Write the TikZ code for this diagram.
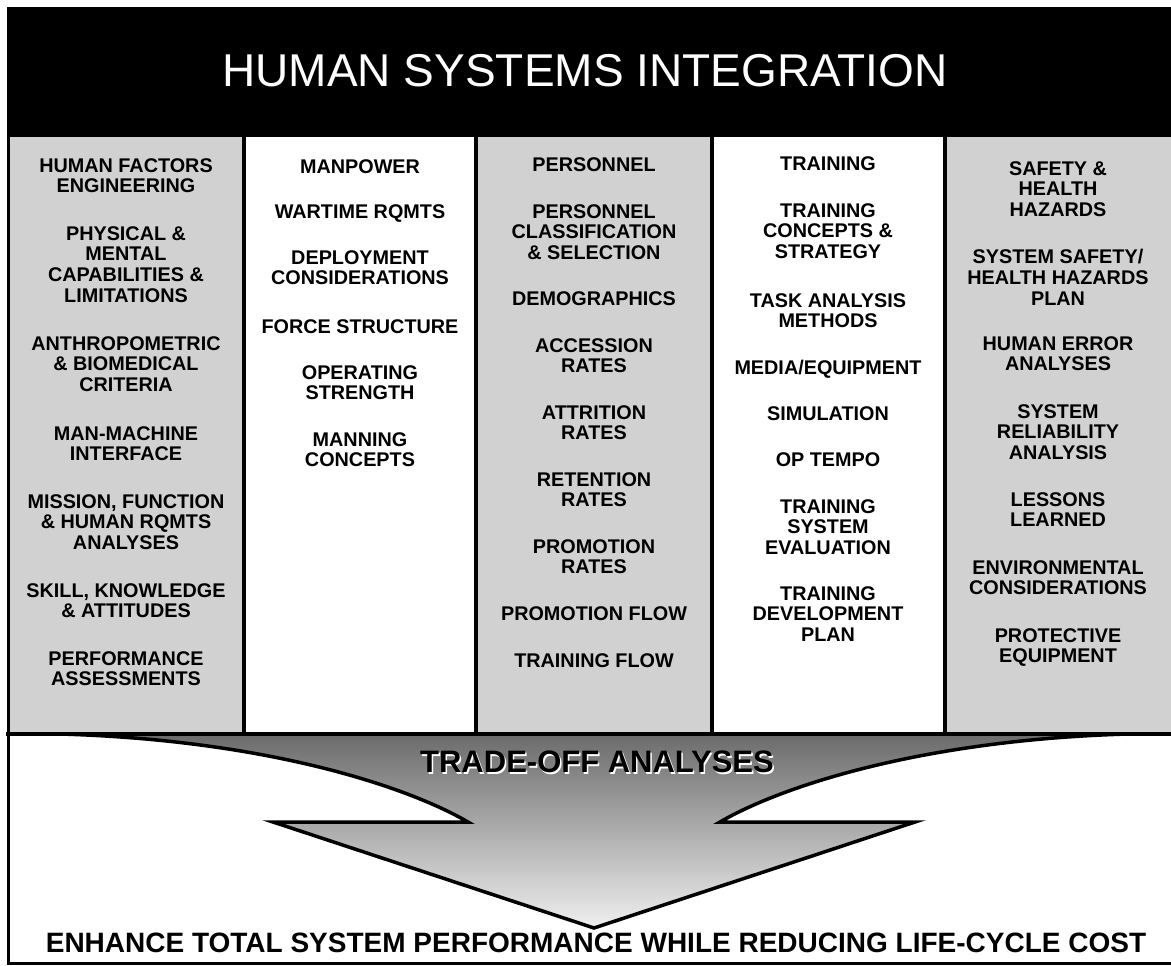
\documentclass[tikz,border=0pt]{standalone}
\usepackage{fontspec}
\setmainfont{Liberation Sans}
\definecolor{colgray}{gray}{0.82}
\begin{document}
\begin{tikzpicture}[x=1pt,y=-1pt,
  titletext/.style={text=white,font=\fontsize{46}{50}\selectfont,inner sep=0pt},
  colt/.style={font=\bfseries\fontsize{19.8}{20.8}\selectfont,align=center,anchor=north,inner sep=0pt},
  tradetext/.style={font=\bfseries\fontsize{31}{34}\selectfont,inner sep=0pt},
  goaltext/.style={font=\bfseries\fontsize{28}{30}\selectfont,inner sep=0pt},
  border/.style={line width=4pt,black},
  arrowline/.style={line width=3.5pt,black,line join=miter}]
\useasboundingbox (0,0) rectangle (1171,966);
\fill[white] (0,0) rectangle (1171,966);
% header
\fill[black] (8,7) rectangle (1171,137);
\node[titletext] (title) at (585,71) {HUMAN SYSTEMS INTEGRATION};
% column backgrounds
\fill[colgray] (8,137) rectangle (244,734);
\fill[colgray] (476,137) rectangle (712,734);
\fill[colgray] (945,137) rectangle (1171,734);
% arrow
\shade[top color=black!58,bottom color=black!6]
  (60,734) .. controls (268,740) and (408,787) .. (468,822) -- (273,822) -- (594,928)
  -- (915,822) -- (720,822) .. controls (780,787) and (920,740) .. (1128,734) -- cycle;
\draw[arrowline]
  (60,734) .. controls (268,740) and (408,787) .. (468,822) -- (273,822) -- (594,928)
  -- (915,822) -- (720,822) .. controls (780,787) and (920,740) .. (1128,734);
% borders
\draw[border] (244,137) -- (244,734);
\draw[border] (476,137) -- (476,734);
\draw[border] (712,137) -- (712,734);
\draw[border] (945,137) -- (945,734);
\draw[border] (6,734) -- (1171,734);
\draw[line width=3pt] (8,7) -- (8,963) -- (1171,963);
% column 1
\node[colt] (c1a) at (126,158) {HUMAN FACTORS\\ENGINEERING};
\node[colt] (c1b) at (126,226) {PHYSICAL \&\\MENTAL\\CAPABILITIES \&\\LIMITATIONS};
\node[colt] (c1c) at (126,336) {ANTHROPOMETRIC\\\& BIOMEDICAL\\CRITERIA};
\node[colt] (c1d) at (126,426) {MAN-MACHINE\\INTERFACE};
\node[colt] (c1e) at (126,494) {MISSION, FUNCTION\\\& HUMAN RQMTS\\ANALYSES};
\node[colt] (c1f) at (126,583) {SKILL, KNOWLEDGE\\\& ATTITUDES};
\node[colt] (c1g) at (126,651) {PERFORMANCE\\ASSESSMENTS};
% column 2
\node[colt] (c2a) at (360,159) {MANPOWER};
\node[colt] (c2b) at (360,204) {WARTIME RQMTS};
\node[colt] (c2c) at (360,250) {DEPLOYMENT\\CONSIDERATIONS};
\node[colt] (c2d) at (360,319) {FORCE STRUCTURE};
\node[colt] (c2e) at (360,365) {OPERATING\\STRENGTH};
\node[colt] (c2f) at (360,432) {MANNING\\CONCEPTS};
% column 3
\node[colt] (c3a) at (594,157) {PERSONNEL};
\node[colt] (c3b) at (594,204) {PERSONNEL\\CLASSIFICATION\\\& SELECTION};
\node[colt] (c3c) at (594,291) {DEMOGRAPHICS};
\node[colt] (c3d) at (594,338) {ACCESSION\\RATES};
\node[colt] (c3e) at (594,405) {ATTRITION\\RATES};
\node[colt] (c3f) at (594,472) {RETENTION\\RATES};
\node[colt] (c3g) at (594,539) {PROMOTION\\RATES};
\node[colt] (c3h) at (594,606) {PROMOTION FLOW};
\node[colt] (c3i) at (594,653) {TRAINING FLOW};
% column 4
\node[colt] (c4a) at (828,156) {TRAINING};
\node[colt] (c4b) at (828,203) {TRAINING\\CONCEPTS \&\\STRATEGY};
\node[colt] (c4c) at (828,293) {TASK ANALYSIS\\METHODS};
\node[colt] (c4d) at (828,360) {MEDIA/EQUIPMENT};
\node[colt] (c4e) at (828,406) {SIMULATION};
\node[colt] (c4f) at (828,452) {OP TEMPO};
\node[colt] (c4g) at (828,499) {TRAINING\\SYSTEM\\EVALUATION};
\node[colt] (c4h) at (828,586) {TRAINING\\DEVELOPMENT\\PLAN};
% column 5
\node[colt] (c5a) at (1058,161) {SAFETY \&\\HEALTH\\HAZARDS};
\node[colt] (c5b) at (1058,249) {SYSTEM SAFETY/\\HEALTH HAZARDS\\PLAN};
\node[colt] (c5c) at (1058,336) {HUMAN ERROR\\ANALYSES};
\node[colt] (c5d) at (1058,404) {SYSTEM\\RELIABILITY\\ANALYSIS};
\node[colt] (c5e) at (1058,492) {LESSONS\\LEARNED};
\node[colt] (c5f) at (1058,560) {ENVIRONMENTAL\\CONSIDERATIONS};
\node[colt] (c5g) at (1058,628) {PROTECTIVE\\EQUIPMENT};
% trade-off label
\node[tradetext,text=white] (tradeshadow) at (598.5,763.5) {TRADE-OFF ANALYSES};
\node[tradetext] (trade) at (597,762) {TRADE-OFF ANALYSES};
% goal
\node[goaltext] (goal) at (596,943) {ENHANCE TOTAL SYSTEM PERFORMANCE WHILE REDUCING LIFE-CYCLE COST};
\end{tikzpicture}
\end{document}
